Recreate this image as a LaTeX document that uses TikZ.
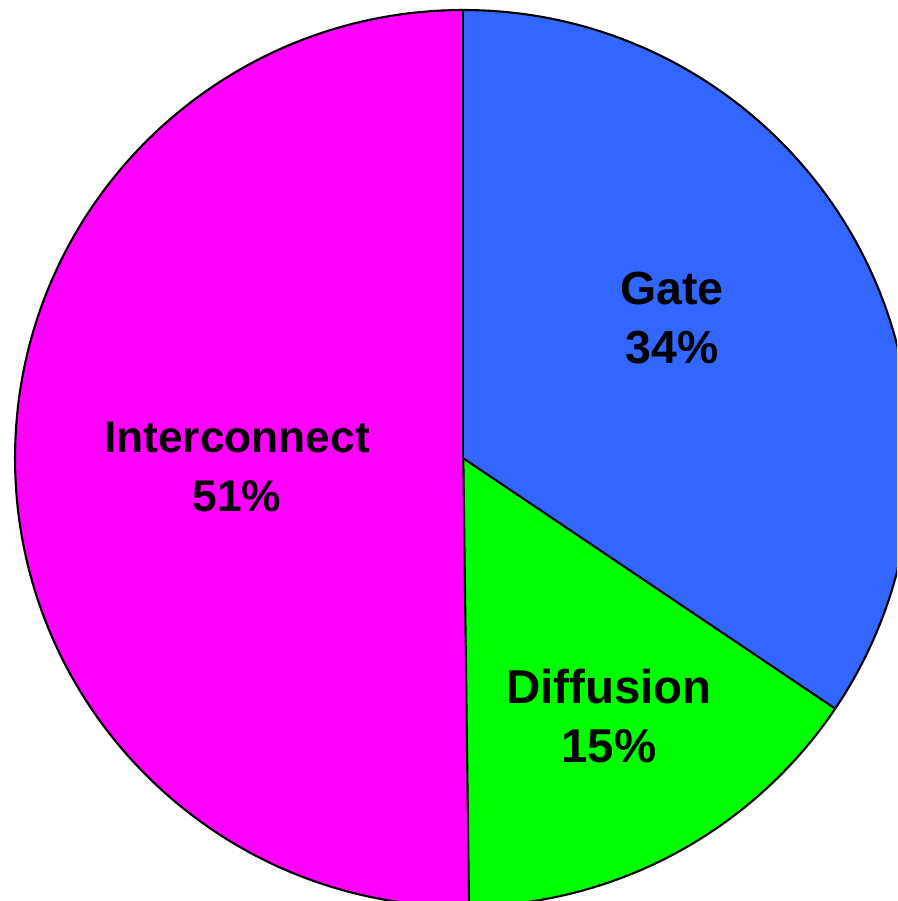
\documentclass[tikz,border=0pt]{standalone}
\usepackage{fontspec}
\setmainfont{Liberation Sans}
\definecolor{gateblue}{HTML}{3366FF}
\definecolor{diffgreen}{HTML}{00FF00}
\definecolor{intmag}{HTML}{FF00FF}
\begin{document}
\begin{tikzpicture}[x=0.01cm,y=-0.01cm,
  slice/.style={draw=black,line width=0.6pt,line join=round},
  lbl/.style={align=center,inner sep=0pt}]
\useasboundingbox (0,0) rectangle (897,901);
\clip (0,0) rectangle (897,901);
\coordinate (c) at (463.3,458.3);
\def\R{4.48cm}
\fill[gateblue] (c) -- ++(90:\R) arc[start angle=90,end angle=-33.95,radius=\R] -- cycle;
\fill[diffgreen] (c) -- ++(-33.95:\R) arc[start angle=-33.95,end angle=-89.27,radius=\R] -- cycle;
\fill[intmag] (c) -- ++(-89.27:\R) arc[start angle=-89.27,end angle=-270,radius=\R] -- cycle;
\draw[slice] (c) circle[radius=\R];
\draw[slice] (c) -- ++(90:\R);
\draw[slice] (c) -- ++(-33.95:\R);
\draw[slice] (c) -- ++(-89.27:\R);
\node[lbl,font=\fontsize{13.2pt}{16.8pt}\selectfont\bfseries] (gate) at (672,318) {Gate\\34\%};
\node[lbl,font=\fontsize{13.5pt}{16.8pt}\selectfont\bfseries] (diff) at (609,716) {Diffusion\\15\%};
\node[lbl,font=\fontsize{12.6pt}{16.8pt}\selectfont\bfseries] (inter) at (237,467) {Interconnect\\51\%};
\end{tikzpicture}
\end{document}
